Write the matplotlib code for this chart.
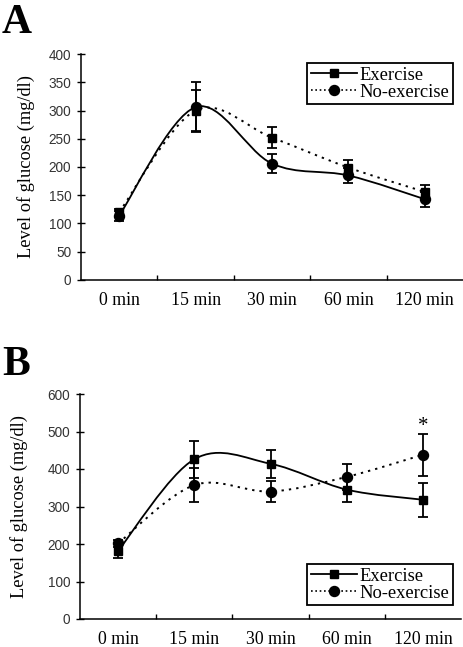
import numpy as np
import matplotlib
matplotlib.use('Agg')
import matplotlib.pyplot as plt
from matplotlib.path import Path
from matplotlib.patches import PathPatch
from matplotlib.lines import Line2D

categories = ['0 min', '15 min', '30 min', '60 min', '120 min']

a_ex_mean = [120, 300, 252, 199, 156]
a_ex_err = [6, 37, 19, 14, 13]
a_noex_mean = [114, 306, 206, 185, 143]
a_noex_err = [9, 44, 17, 14, 13]

b_ex_mean = [182, 426, 414, 345, 318]
b_ex_err = [20, 49, 37, 32, 45]
b_noex_mean = [202, 357, 340, 379, 438]
b_noex_err = [10, 46, 29, 34, 56]

# smoothed lines as drawn in the source figure
a_solid_line = a_noex_mean
a_dotted_line = a_ex_mean
b_solid_line = b_ex_mean
b_dotted_line = b_noex_mean

SERIF = 'Liberation Serif'
SANS = 'Liberation Sans'
W, H = 464, 647
DOT = (0, (1.2, 2.6))


def smooth_path(xs, ys):
    pts = np.column_stack([xs, ys]).astype(float)
    n = len(pts)
    verts = [pts[0]]
    codes = [Path.MOVETO]
    for i in range(n - 1):
        p0 = pts[max(i - 1, 0)]
        p1 = pts[i]
        p2 = pts[i + 1]
        p3 = pts[min(i + 2, n - 1)]
        c1 = p1 + (p2 - p0) / 6.0
        c2 = p2 - (p3 - p1) / 6.0
        verts += [c1, c2, p2]
        codes += [Path.CURVE4] * 3
    return Path(verts, codes)


def panel(ax, ex_mean, ex_err, noex_mean, noex_err, solid_line, dotted_line,
          ymax, ystep, legend_box, ylabel_x):
    x = np.arange(len(categories)) + 0.5
    ax.add_patch(PathPatch(smooth_path(x, solid_line), fill=False, lw=1.3,
                           color='black', zorder=2))
    ax.add_patch(PathPatch(smooth_path(x, dotted_line), fill=False, lw=1.4,
                           color='black', linestyle=DOT, zorder=2))
    for m, e in ((ex_mean, ex_err), (noex_mean, noex_err)):
        ax.errorbar(x, m, yerr=e, fmt='none', ecolor='black', elinewidth=1.3,
                    capsize=3.5, capthick=1.3, zorder=3)
    ax.plot(x, ex_mean, 's', ms=6.4, color='black', zorder=4)
    ax.plot(x, noex_mean, 'o', ms=7.2, color='black', zorder=4)

    ax.set_xlim(0, len(categories))
    ax.set_ylim(0, ymax)
    ax.set_yticks(np.arange(0, ymax + 1, ystep))
    ax.set_xticks(np.arange(1, len(categories)))
    ax.set_xticklabels([])
    ax.set_xticks(x, minor=True)
    ax.set_xticklabels(categories, minor=True, fontfamily=SERIF, fontsize=12.8)
    ax.tick_params(axis='x', which='major', direction='in', length=3.5, width=1)
    ax.tick_params(axis='x', which='minor', length=0, pad=9)
    ax.tick_params(axis='y', direction='inout', length=6, width=1, pad=4,
                   labelsize=9.8, labelcolor='#333333')
    for lab in ax.get_yticklabels():
        lab.set_fontfamily(SANS)
    for s in ('top', 'right'):
        ax.spines[s].set_visible(False)
    for s in ('left', 'bottom'):
        ax.spines[s].set_linewidth(1.1)
    ax.set_ylabel('Level of glucose (mg/dl)', fontfamily=SERIF, fontsize=13.2)
    ax.yaxis.set_label_coords(ylabel_x, 0.5)

    handles = [Line2D([], [], color='black', lw=1.3, marker='s', ms=6.4),
               Line2D([], [], color='black', lw=1.2, linestyle=(0, (1, 1.6)),
                      marker='o', ms=7.2)]
    leg = ax.legend(handles, ['Exercise', 'No-exercise'], loc='upper left',
                    bbox_to_anchor=legend_box, bbox_transform=ax.figure.transFigure,
                    borderaxespad=0, frameon=True, fancybox=False, framealpha=1,
                    edgecolor='black', prop={'family': SERIF, 'size': 13.3},
                    borderpad=0.2, labelspacing=0.0, handlelength=2.5,
                    handletextpad=0.15, numpoints=1)
    leg.get_frame().set_linewidth(1.3)


fig = plt.figure(figsize=(W / 100, H / 100), dpi=100)
axA = fig.add_axes([81 / W, 1 - 280 / H, (463 - 81) / W, (280 - 54) / H])
axB = fig.add_axes([80 / W, 1 - 619 / H, (461 - 80) / W, (619 - 394) / H])

panel(axA, a_ex_mean, a_ex_err, a_noex_mean, a_noex_err, a_solid_line, a_dotted_line,
      400, 50, (307 / W, 1 - 63 / H), -46 / 382)
panel(axB, b_ex_mean, b_ex_err, b_noex_mean, b_noex_err, b_solid_line, b_dotted_line,
      600, 100, (307 / W, 1 - 564 / H), -52 / 381)

axB.text(4.5, 513, '*', ha='center', va='center', fontfamily=SERIF, fontsize=15)

fig.text(2 / W, 1 - 4 / H, 'A', ha='left', va='top', fontfamily=SERIF,
         fontweight='bold', fontsize=30)
fig.text(2 / W, 1 - 346 / H, 'B', ha='left', va='top', fontfamily=SERIF,
         fontweight='bold', fontsize=30)

fig.savefig('out.png', dpi=100)
